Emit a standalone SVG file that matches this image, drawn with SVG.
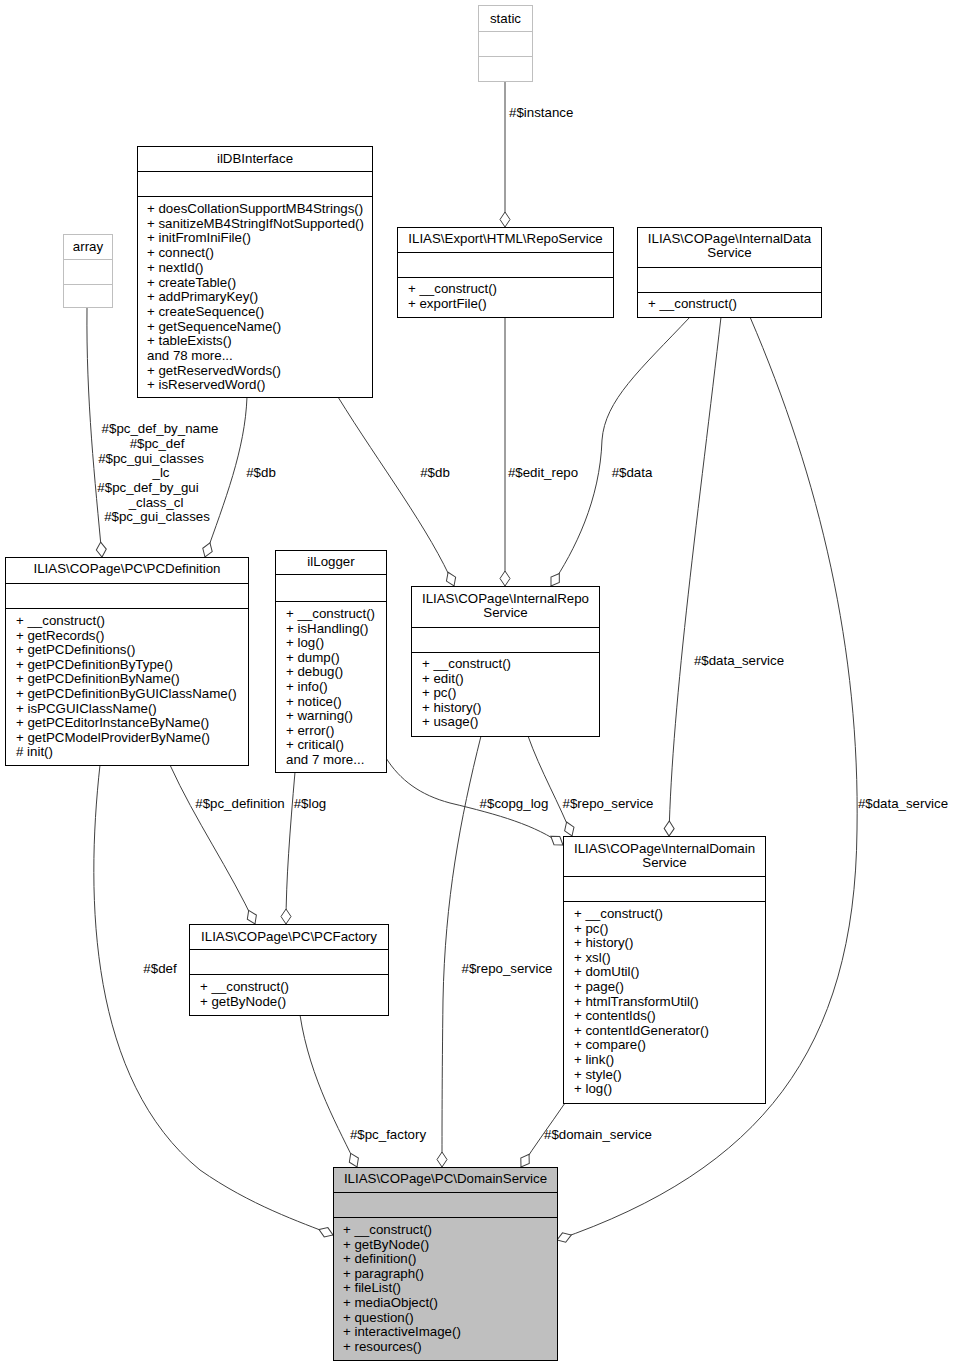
<svg xmlns="http://www.w3.org/2000/svg" width="953" height="1367" viewBox="0 0 953 1367">
<style>
text{font-family:"Liberation Sans",Arial,sans-serif;font-size:13.3px;fill:#000}
.c{text-anchor:middle}
.box{fill:#fff;stroke:#000;stroke-width:1}
.gbox{fill:#fff;stroke:#bfbfbf;stroke-width:1}
.sel{fill:#bfbfbf;stroke:#000;stroke-width:1}
.sep{stroke:#000;stroke-width:1}
.gsep{stroke:#bfbfbf;stroke-width:1}
.e{fill:none;stroke:#404040;stroke-width:1;marker-end:url(#dia)}
</style>
<defs>
<marker id="dia" viewBox="-1 -6 17 12" refX="15" refY="0" markerWidth="17" markerHeight="12" markerUnits="userSpaceOnUse" orient="auto">
<path d="M0,0 L7.5,-5 L15,0 L7.5,5 Z" fill="#fff" stroke="#404040" stroke-width="1"/>
</marker>
</defs>
<rect width="953" height="1367" fill="#fff"/>
<g id="connectors">
<path class="e" d="M505,81 L505,227"/>
<path class="e" d="M87,308 C86,400 95,480 102,557"/>
<path class="e" d="M247,397 C245,450 225,500 205,557"/>
<path class="e" d="M338,397 C380,465 430,530 454,586"/>
<path class="e" d="M505,317 L505,586"/>
<path class="e" d="M690,317 C640,370 605,400 602,440 C600,500 575,550 551,586"/>
<path class="e" d="M721,317 C700,500 672,700 669,836"/>
<path class="e" d="M750,317 C820,480 860,650 857,830 C855,1050 760,1170 557,1240"/>
<path class="e" d="M170,765 C195,820 230,870 255,924"/>
<path class="e" d="M295,772 C290,830 286,880 286,924"/>
<path class="e" d="M386,758 C400,780 420,795 450,803 C500,815 535,825 563,845"/>
<path class="e" d="M528,736 C540,770 560,805 572,836"/>
<path class="e" d="M100,765 C85,900 90,1080 200,1170 C250,1205 300,1222 333,1235"/>
<path class="e" d="M300,1015 C310,1080 340,1130 357,1167"/>
<path class="e" d="M481,736 C460,820 445,900 443,1000 C442,1080 442,1130 442,1167"/>
<path class="e" d="M565,1103 C550,1125 535,1145 521,1167"/>
</g>
<g id="edge-labels">
<text x="509" y="117">#$instance</text>
<text class="c" x="160" y="433">#$pc_def_by_name</text>
<text class="c" x="157" y="448">#$pc_def</text>
<text class="c" x="151" y="463">#$pc_gui_classes</text>
<text class="c" x="161" y="477">_lc</text>
<text class="c" x="148" y="492">#$pc_def_by_gui</text>
<text class="c" x="156" y="507">_class_cl</text>
<text class="c" x="157" y="521">#$pc_gui_classes</text>
<text class="c" x="261" y="477">#$db</text>
<text class="c" x="435" y="477">#$db</text>
<text class="c" x="543" y="477">#$edit_repo</text>
<text class="c" x="632" y="477">#$data</text>
<text class="c" x="739" y="665">#$data_service</text>
<text class="c" x="903" y="808">#$data_service</text>
<text class="c" x="240" y="808">#$pc_definition</text>
<text class="c" x="310" y="808">#$log</text>
<text class="c" x="514" y="808">#$copg_log</text>
<text class="c" x="608" y="808">#$repo_service</text>
<text class="c" x="160" y="973">#$def</text>
<text class="c" x="507" y="973">#$repo_service</text>
<text class="c" x="388" y="1139">#$pc_factory</text>
<text class="c" x="598" y="1139">#$domain_service</text>
</g>
<g id="static">
<rect class="gbox" x="478.5" y="5.5" width="54" height="76"/>
<line class="gsep" x1="478.5" y1="31.5" x2="532.5" y2="31.5"/>
<line class="gsep" x1="478.5" y1="56.5" x2="532.5" y2="56.5"/>
<text class="c" x="505.5" y="23">static</text>
</g>
<g id="array">
<rect class="gbox" x="63.5" y="234.5" width="49" height="73"/>
<line class="gsep" x1="63.5" y1="259.5" x2="112.5" y2="259.5"/>
<line class="gsep" x1="63.5" y1="284.5" x2="112.5" y2="284.5"/>
<text class="c" x="88" y="251">array</text>
</g>
<g id="ilDBInterface">
<rect class="box" x="137.5" y="146.5" width="235" height="251"/>
<line class="sep" x1="137.5" y1="171.5" x2="372.5" y2="171.5"/>
<line class="sep" x1="137.5" y1="196.5" x2="372.5" y2="196.5"/>
<text class="c" x="255" y="163">ilDBInterface</text>
<text x="147" y="213">+ doesCollationSupportMB4Strings()</text>
<text x="147" y="227.7">+ sanitizeMB4StringIfNotSupported()</text>
<text x="147" y="242.4">+ initFromIniFile()</text>
<text x="147" y="257.1">+ connect()</text>
<text x="147" y="271.8">+ nextId()</text>
<text x="147" y="286.5">+ createTable()</text>
<text x="147" y="301.2">+ addPrimaryKey()</text>
<text x="147" y="315.9">+ createSequence()</text>
<text x="147" y="330.6">+ getSequenceName()</text>
<text x="147" y="345.3">+ tableExists()</text>
<text x="147" y="360">and 78 more...</text>
<text x="147" y="374.7">+ getReservedWords()</text>
<text x="147" y="389.4">+ isReservedWord()</text>
</g>
<g id="ExportRepoService">
<rect class="box" x="397.5" y="227.5" width="216" height="90"/>
<line class="sep" x1="397.5" y1="252.5" x2="613.5" y2="252.5"/>
<line class="sep" x1="397.5" y1="277.5" x2="613.5" y2="277.5"/>
<text class="c" x="505.5" y="243">ILIAS\Export\HTML\RepoService</text>
<text x="408" y="293">+ __construct()</text>
<text x="408" y="308">+ exportFile()</text>
</g>
<g id="InternalDataService">
<rect class="box" x="637.5" y="227.5" width="184" height="90"/>
<line class="sep" x1="637.5" y1="267.5" x2="821.5" y2="267.5"/>
<line class="sep" x1="637.5" y1="292.5" x2="821.5" y2="292.5"/>
<text class="c" x="729.5" y="243">ILIAS\COPage\InternalData</text>
<text class="c" x="729.5" y="257">Service</text>
<text x="648" y="308">+ __construct()</text>
</g>
<g id="PCDefinition">
<rect class="box" x="5.5" y="557.5" width="243" height="208"/>
<line class="sep" x1="5.5" y1="583.5" x2="248.5" y2="583.5"/>
<line class="sep" x1="5.5" y1="608.5" x2="248.5" y2="608.5"/>
<text class="c" x="127" y="573">ILIAS\COPage\PC\PCDefinition</text>
<text x="16" y="625">+ __construct()</text>
<text x="16" y="639.6">+ getRecords()</text>
<text x="16" y="654.2">+ getPCDefinitions()</text>
<text x="16" y="668.8">+ getPCDefinitionByType()</text>
<text x="16" y="683.4">+ getPCDefinitionByName()</text>
<text x="16" y="698">+ getPCDefinitionByGUIClassName()</text>
<text x="16" y="712.6">+ isPCGUIClassName()</text>
<text x="16" y="727.2">+ getPCEditorInstanceByName()</text>
<text x="16" y="741.8">+ getPCModelProviderByName()</text>
<text x="16" y="756.4"># init()</text>
</g>
<g id="ilLogger">
<rect class="box" x="275.5" y="550.5" width="111" height="222"/>
<line class="sep" x1="275.5" y1="574.5" x2="386.5" y2="574.5"/>
<line class="sep" x1="275.5" y1="601.5" x2="386.5" y2="601.5"/>
<text class="c" x="331" y="566">ilLogger</text>
<text x="286" y="618">+ __construct()</text>
<text x="286" y="632.6">+ isHandling()</text>
<text x="286" y="647.2">+ log()</text>
<text x="286" y="661.8">+ dump()</text>
<text x="286" y="676.4">+ debug()</text>
<text x="286" y="691">+ info()</text>
<text x="286" y="705.6">+ notice()</text>
<text x="286" y="720.2">+ warning()</text>
<text x="286" y="734.8">+ error()</text>
<text x="286" y="749.4">+ critical()</text>
<text x="286" y="764">and 7 more...</text>
</g>
<g id="InternalRepoService">
<rect class="box" x="411.5" y="586.5" width="188" height="150"/>
<line class="sep" x1="411.5" y1="627.5" x2="599.5" y2="627.5"/>
<line class="sep" x1="411.5" y1="652.5" x2="599.5" y2="652.5"/>
<text class="c" x="505.5" y="603">ILIAS\COPage\InternalRepo</text>
<text class="c" x="505.5" y="617">Service</text>
<text x="422" y="668">+ __construct()</text>
<text x="422" y="682.6">+ edit()</text>
<text x="422" y="697.2">+ pc()</text>
<text x="422" y="711.8">+ history()</text>
<text x="422" y="726.4">+ usage()</text>
</g>
<g id="InternalDomainService">
<rect class="box" x="563.5" y="836.5" width="202" height="267"/>
<line class="sep" x1="563.5" y1="876.5" x2="765.5" y2="876.5"/>
<line class="sep" x1="563.5" y1="901.5" x2="765.5" y2="901.5"/>
<text class="c" x="664.5" y="853">ILIAS\COPage\InternalDomain</text>
<text class="c" x="664.5" y="867">Service</text>
<text x="574" y="918">+ __construct()</text>
<text x="574" y="932.6">+ pc()</text>
<text x="574" y="947.2">+ history()</text>
<text x="574" y="961.8">+ xsl()</text>
<text x="574" y="976.4">+ domUtil()</text>
<text x="574" y="991">+ page()</text>
<text x="574" y="1005.6">+ htmlTransformUtil()</text>
<text x="574" y="1020.2">+ contentIds()</text>
<text x="574" y="1034.8">+ contentIdGenerator()</text>
<text x="574" y="1049.4">+ compare()</text>
<text x="574" y="1064">+ link()</text>
<text x="574" y="1078.6">+ style()</text>
<text x="574" y="1093.2">+ log()</text>
</g>
<g id="PCFactory">
<rect class="box" x="189.5" y="924.5" width="199" height="91"/>
<line class="sep" x1="189.5" y1="949.5" x2="388.5" y2="949.5"/>
<line class="sep" x1="189.5" y1="974.5" x2="388.5" y2="974.5"/>
<text class="c" x="289" y="941">ILIAS\COPage\PC\PCFactory</text>
<text x="200" y="991">+ __construct()</text>
<text x="200" y="1006">+ getByNode()</text>
</g>
<g id="DomainService">
<rect class="sel" x="333.5" y="1167.5" width="224" height="193"/>
<line class="sep" x1="333.5" y1="1192.5" x2="557.5" y2="1192.5"/>
<line class="sep" x1="333.5" y1="1217.5" x2="557.5" y2="1217.5"/>
<text class="c" x="445.5" y="1183">ILIAS\COPage\PC\DomainService</text>
<text x="343" y="1234">+ __construct()</text>
<text x="343" y="1248.6">+ getByNode()</text>
<text x="343" y="1263.2">+ definition()</text>
<text x="343" y="1277.8">+ paragraph()</text>
<text x="343" y="1292.4">+ fileList()</text>
<text x="343" y="1307">+ mediaObject()</text>
<text x="343" y="1321.6">+ question()</text>
<text x="343" y="1336.2">+ interactiveImage()</text>
<text x="343" y="1350.8">+ resources()</text>
</g>
</svg>
